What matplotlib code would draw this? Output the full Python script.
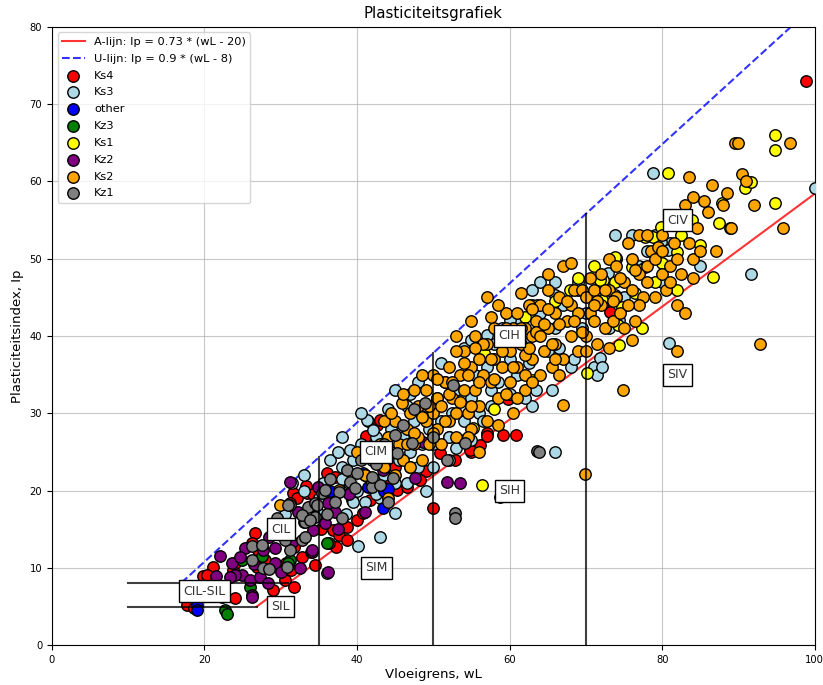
import matplotlib
matplotlib.use('Agg')
import numpy as np
import matplotlib.pyplot as plt

# (wL, Ip) per group
ks4 = [(17.7, 5.2), (18.6, 4.8), (19.8, 8.9), (21.1, 10.1), (20.4, 9.1), (22.3, 6.3), (24.0, 6.1),
       (23.7, 9.7), (24.0, 10.6), (26.6, 14.5), (26.2, 13.2), (26.9, 10.1), (29.0, 7.1), (30.5, 8.4),
       (31.8, 7.5), (31.4, 9.7), (32.8, 11.4), (31.8, 12.7), (34.5, 10.4), (31.6, 19.7), (33.4, 19.7),
       (36.0, 22.3), (37.1, 21.7), (32.1, 19.0), (31.2, 18.4), (36.8, 14.9), (37.7, 14.2), (38.7, 15.3),
       (37.3, 12.7), (38.7, 13.6), (40.0, 16.2), (40.8, 17.1), (41.7, 18.8), (45.3, 20.1), (46.5, 20.5),
       (42.6, 28.5), (43.0, 29.1), (50.9, 24.9), (56.1, 25.9), (59.1, 27.2), (60.9, 27.2), (59.8, 31.8),
       (58.8, 19.2), (50.0, 17.7), (73.1, 43.1), (98.8, 73.0), (52.0, 27.0), (54.0, 26.5), (55.0, 25.0),
       (57.0, 27.5), (47.0, 23.0), (49.0, 22.5), (44.0, 21.0), (45.0, 23.0), (35.3, 15.1), (36.3, 13.2),
       (39.3, 18.8), (27.0, 12.3), (28.0, 11.0), (30.7, 10.7), (33.3, 20.6), (34.2, 19.5), (41.2, 27.1),
       (48.2, 21.4), (52.8, 23.9), (54.8, 25.2), (57.1, 27.1)]

ks3 = [(30.5, 17), (31.5, 21), (33, 20), (34, 18), (35, 17), (35.5, 21), (36.5, 24), (37, 19), (38, 23),
       (38.5, 17), (39, 21), (39.5, 24), (40, 20), (40.5, 26), (41, 22), (41.5, 29), (42, 24), (42.5, 27),
       (43, 19), (43.5, 22), (44, 25), (44.5, 28), (45, 21), (45.5, 24), (46, 27), (46.5, 31), (47, 25),
       (47.5, 29), (48, 23), (48.5, 26), (49, 31), (49.5, 28), (50, 26), (50.5, 32), (51, 29), (51.5, 34),
       (52, 27), (52.5, 30), (53, 33), (54, 29), (55, 32), (55.5, 35), (56, 30), (57, 36), (57.5, 33),
       (58, 39), (58.5, 34), (59, 40), (60, 37), (61, 35), (62, 39), (63, 31), (63.5, 33), (64, 43),
       (65, 38), (65.5, 33), (66, 41), (67, 44), (68, 36), (68.5, 37), (69, 46), (70, 43), (71, 36),
       (71.5, 35), (72, 47), (73, 41), (74, 50), (75, 45), (76, 53), (77, 49), (78, 51), (79, 53),
       (80, 47), (81, 52), (85, 49), (41.3, 29.1), (42.1, 27.8), (39.1, 25.2), (45.0, 17.1), (41.0, 18.5),
       (36.0, 9.4), (40.1, 12.8), (33.0, 22.0), (57.1, 40.1), (63, 46), (64, 47), (66, 47), (59, 41),
       (61, 42), (72.9, 48.2), (68.9, 47.0), (65.9, 45.3), (60.0, 42.1), (71.8, 37.2), (72.1, 36.0),
       (74.0, 45.1), (74.4, 42.1), (73.8, 53.1), (79.9, 52.2), (80.7, 51.1), (77.7, 48.9), (73.8, 45.3),
       (78.8, 61.1), (100.0, 59.2), (91.7, 48.0), (80.9, 39.1), (65.9, 25.0), (34.0, 12.0), (38.0, 27.0),
       (44.0, 30.5), (47.0, 32.5), (50.0, 23.0), (53.0, 25.5), (56.5, 29.0), (62.0, 32.0), (43.0, 14.0),
       (45, 33), (48, 34), (51, 36.5), (54, 38.5), (55, 39.5), (57.5, 31), (60, 32.5), (62.5, 36.5),
       (66.5, 38.5), (69.5, 41), (38, 21.5), (39.5, 18.5), (42.5, 19.5), (46.5, 21), (49, 20), (40.5, 30),
       (37.5, 25), (35, 19), (52, 24), (55, 26.5)]

other = [(19.0, 5.2), (19.0, 4.5), (40.8, 22.3), (43.4, 20.5), (43.4, 17.7), (41.0, 22.0),
         (43.6, 20.0), (41.5, 20.5), (44.0, 20.2), (36.5, 20.0)]

kz3 = [(22.7, 4.5), (22.9, 4.0), (24.9, 11.0), (26.0, 7.5), (31.2, 11.0), (36.0, 13.2),
       (27.5, 11.6), (30.9, 10.7)]

ks1 = [(94.8, 66.0), (94.8, 64.1), (90.8, 59.1), (91.7, 59.9), (87.8, 57.2), (94.8, 57.2), (80.7, 61.1),
       (87.5, 54.6), (88.9, 54.0), (83.9, 55.0), (84.9, 51.8), (86.6, 47.6), (79.9, 54.1), (81.9, 50.9),
       (78.8, 52.8), (77.7, 52.8), (74.0, 50.1), (76.0, 48.9), (72.2, 47.2), (73.8, 47.0), (81.9, 46.0),
       (74.7, 43.8), (77.1, 48.5), (72.2, 44.3), (74.2, 41.4), (77.3, 41.0), (73.8, 50.2), (71.8, 47.2),
       (72.1, 44.7), (62.9, 44.0), (62.0, 42.5), (67.9, 46.0), (70.1, 35.2), (63.0, 34.3), (56.7, 37.8),
       (55.2, 28.1), (63.6, 44.0), (56.4, 20.7), (74.4, 38.8), (80.0, 49.5), (82.5, 53.0), (76.5, 45.5),
       (69.0, 47.5), (66.0, 44.5), (60.5, 40.5), (58.0, 30.5), (79.0, 47.0), (71.0, 49.0)]

kz2 = [(24.9, 9.1), (26.0, 8.4), (26.3, 6.5), (24.0, 9.1), (25.3, 12.6), (27.7, 12.3), (29.2, 10.7),
       (27.3, 8.8), (28.3, 8.0), (31.5, 13.3), (34.1, 12.0), (32.2, 17.2), (34.9, 20.5), (23.3, 8.8),
       (23.6, 10.6), (24.6, 11.4), (29.2, 12.6), (31.2, 21.1), (36.2, 9.5), (26.3, 6.2), (35.8, 15.8),
       (34.2, 14.9), (36.2, 18.4), (37.5, 15.1), (37.1, 17.2), (41.0, 17.2), (34.1, 12.3), (48.6, 26.3),
       (43.4, 22.7), (51.8, 21.1), (47.6, 21.6), (53.5, 21.0), (22.0, 11.5), (21.5, 9.0), (28.5, 14.0),
       (30.0, 9.5), (33.0, 16.0), (32.5, 10.0), (39.0, 19.5), (26.5, 10.5)]

ks2 = [(40, 25), (41, 22), (42, 21), (42.5, 24), (43, 26), (43.5, 23), (44, 27), (44, 19), (44.5, 25),
       (45, 22), (45, 29), (45.5, 26), (45.9, 31.3), (46, 24),
       (46.5, 28), (47, 23), (47, 30), (47.5, 26), (48, 31), (48, 27), (48.5, 24), (49, 29), (49, 33),
       (49.5, 26), (50, 30), (50, 35), (50.5, 28), (50.5, 32),
       (51, 31), (51, 26), (51.5, 34), (52, 29), (52, 36), (52.5, 32), (53, 27), (53, 30), (53.5, 35),
       (54, 33), (54, 38), (54.5, 30), (55, 36), (55, 28), (55.5, 33), (55.5, 40),
       (56, 31), (56, 37), (56.5, 35), (57, 39), (57, 29), (57.5, 34), (58, 37), (58, 41), (58.5, 32),
       (59, 36), (59, 39), (59.5, 43), (60, 34), (60, 38), (60.5, 41), (60.5, 30),
       (61, 36), (61, 43), (61.5, 39), (62, 33), (62, 41), (62.5, 44), (63, 37), (63, 40), (63.5, 42),
       (64, 35), (64, 44), (64.5, 38), (65, 41), (65, 46), (65.5, 36),
       (66, 43), (66, 39), (66.5, 45), (67, 37), (67, 49), (67.5, 42), (68, 44), (68, 40), (68.5, 46),
       (69, 38), (69, 43), (69.5, 46), (70, 40), (70, 45), (70.5, 43),
       (71, 42), (71, 46), (71.5, 39), (72, 44), (72, 48), (72.5, 41), (73, 46), (73, 50), (73.5, 42),
       (74, 45), (74, 49), (74.5, 43), (75, 47), (75, 41), (75.5, 52),
       (76, 46), (76, 50), (76.5, 42), (77, 48), (77, 53), (77.5, 45), (78, 49), (78, 47), (78.5, 51),
       (79, 45), (79, 50), (80, 48), (80, 53), (80.5, 46),
       (81, 49), (81.5, 52), (82, 50), (82, 44), (82.5, 48), (83, 57), (83.5, 52), (84, 58), (84, 50),
       (84.5, 54), (85, 51),
       (86, 56), (86.5, 59.5), (87, 51), (88, 57), (89, 54), (89.5, 65), (90, 65), (90.5, 61), (91, 60),
       (92, 57), (92.8, 39.0), (95.8, 54.0), (96.7, 65.0),
       (81.9, 38.1), (83.0, 43.0), (74.8, 33.0), (69.9, 22.1), (67.0, 31.1), (56.0, 25.0), (29.9, 18.1),
       (37.7, 20.1), (63.5, 40.5), (62, 37.5), (58.5, 44), (55, 42), (53, 38), (48.5, 35),
       (46, 32.5), (43.5, 29), (57, 45), (65, 48), (68, 49.5), (70.5, 47.5), (77, 44), (85.5, 57.5),
       (83.5, 60.5), (88.5, 58.5), (79.5, 51.5), (66.5, 35), (61.5, 45.5), (59.5, 32.5), (54.5, 35),
       (52, 32.5), (50, 27.5), (47.5, 27.5), (64.5, 41.5), (71.5, 44.5), (73, 38.5), (76, 39.5),
       (44.5, 30), (46.5, 26), (47.5, 33), (48.5, 29.5), (49.5, 31), (50.5, 34.5), (51.5, 29), (52.5, 34),
       (53.5, 31.5), (54, 36.5), (55, 31), (56, 34), (56.5, 39), (57.5, 37), (58, 34.5), (59, 38),
       (60, 40), (60.5, 36), (61.5, 41), (62, 35), (62.5, 38.5), (63, 43.5), (64, 40), (65, 43.5),
       (66, 37), (66.5, 41.5), (67.5, 44.5), (68.5, 42), (69.5, 40.5), (70, 38), (71, 44), (72.5, 46),
       (73.5, 44.5), (74.5, 47.5), (75.5, 44), (76.5, 48.5), (78, 53), (80, 51), (81, 47), (82.5, 55.5),
       (84, 47.5), (57.5, 42.5), (59.5, 41), (55.5, 38.5), (53, 40), (58.5, 28.5), (61, 32), (63, 34),
       (65.5, 39), (54.5, 27)]

kz1 = [(31.2, 18.1), (29.2, 14.9), (33.2, 15.9), (32.8, 13.6), (34.5, 16.6), (26.2, 12.9), (26.2, 11.0),
       (27.7, 10.0), (31.2, 12.3), (30.5, 13.6), (33.6, 17.9), (34.5, 18.4), (35.4, 19.7), (30.8, 10.1),
       (45.0, 27.2), (47.2, 26.1), (39.1, 21.1), (37.7, 19.8), (35.8, 20.1), (39.7, 20.3), (41.9, 20.5),
       (43.0, 20.7), (32.8, 16.8), (33.8, 16.2), (33.2, 14.0), (37.1, 18.5), (38.7, 22.7), (40.0, 22.3),
       (41.9, 21.8), (44.7, 21.6), (45.2, 24.9), (30.9, 18.1), (34.7, 18.1), (48.9, 31.3), (52.6, 33.7),
       (54.1, 26.1), (51.8, 23.9), (52.9, 17.1), (52.9, 16.4), (63.6, 25.1), (63.9, 25.0), (28.5, 9.8),
       (36.0, 17.0), (38.0, 16.5), (42.5, 23.5), (46.0, 28.5), (43.5, 26.0), (40.5, 24.0), (36.5, 21.5),
       (29.5, 16.5), (27.5, 13.0), (47.5, 30.5), (50.0, 27.0), (44.0, 18.5)]

groups = ['Ks4', 'Ks3', 'other', 'Kz3', 'Ks1', 'Kz2', 'Ks2', 'Kz1']
data = [ks4, ks3, other, kz3, ks1, kz2, ks2, kz1]
colors = ['red', 'lightblue', 'blue', 'green', 'yellow', 'purple', 'orange', 'gray']

# zone labels
zone_names = ['CIL-SIL', 'SIL', 'CIL', 'SIM', 'CIM', 'SIH', 'CIH', 'SIV', 'CIV']
zone_x = [20, 30, 30, 42.5, 42.5, 60, 60, 82, 82]
zone_y = [7, 5, 15, 10, 25, 20, 40, 35, 55]


def a_line(wl):
    return 0.73 * (wl - 20)


def u_line(wl):
    return 0.9 * (wl - 8)


fig = plt.figure(figsize=(8.23, 6.85), dpi=100)
ax = fig.add_axes([0.063, 0.058, 0.927, 0.903])

wl_a = np.array([20 + 5 / 0.73, 100])
ax.plot(wl_a, a_line(wl_a), color='red', alpha=0.8, lw=1.5, label='A-lijn: Ip = 0.73 * (wL - 20)')
wl_u = np.array([17, 8 + 80 / 0.9])
ax.plot(wl_u, u_line(wl_u), color='blue', alpha=0.8, lw=1.5, ls='--', label='U-lijn: Ip = 0.9 * (wL - 8)')

for name, pts, c in zip(groups, data, colors):
    pts = np.array(pts)
    ax.scatter(pts[:, 0], pts[:, 1], s=68, c=c, edgecolors='black', linewidths=1, label=name, zorder=3)

# zone boundaries
for x in [35, 50, 70]:
    ax.plot([x, x], [0, u_line(x)], color='black', alpha=0.75, lw=1.5, zorder=4)
ax.plot([10, 20 + 8 / 0.73], [8, 8], color='black', alpha=0.75, lw=1.5, zorder=4)
ax.plot([10, 20 + 5 / 0.73], [5, 5], color='black', alpha=0.75, lw=1.5, zorder=4)

for t, x, y in zip(zone_names, zone_x, zone_y):
    ax.text(x, y, t, ha='center', va='center', fontsize=9, color='#333333', zorder=6,
            bbox=dict(boxstyle='square,pad=0.35', facecolor='white', edgecolor='black'))

ax.set_xlim(0, 100)
ax.set_ylim(0, 80)
ax.set_xticks([0, 20, 40, 60, 80, 100])
ax.set_yticks(range(0, 81, 10))
ax.tick_params(labelsize=7.2)
ax.grid(True, color='#b0b0b0', lw=0.8, alpha=0.7)
ax.set_axisbelow(True)
ax.set_title('Plasticiteitsgrafiek', fontsize=10.8)
ax.set_xlabel('Vloeigrens, wL', fontsize=9.5, labelpad=2)
ax.set_ylabel('Plasticiteitsindex, Ip', fontsize=9.5)
ax.legend(loc='upper left', fontsize=8.2, labelspacing=0.6)

fig.savefig('out.png', dpi=100)
